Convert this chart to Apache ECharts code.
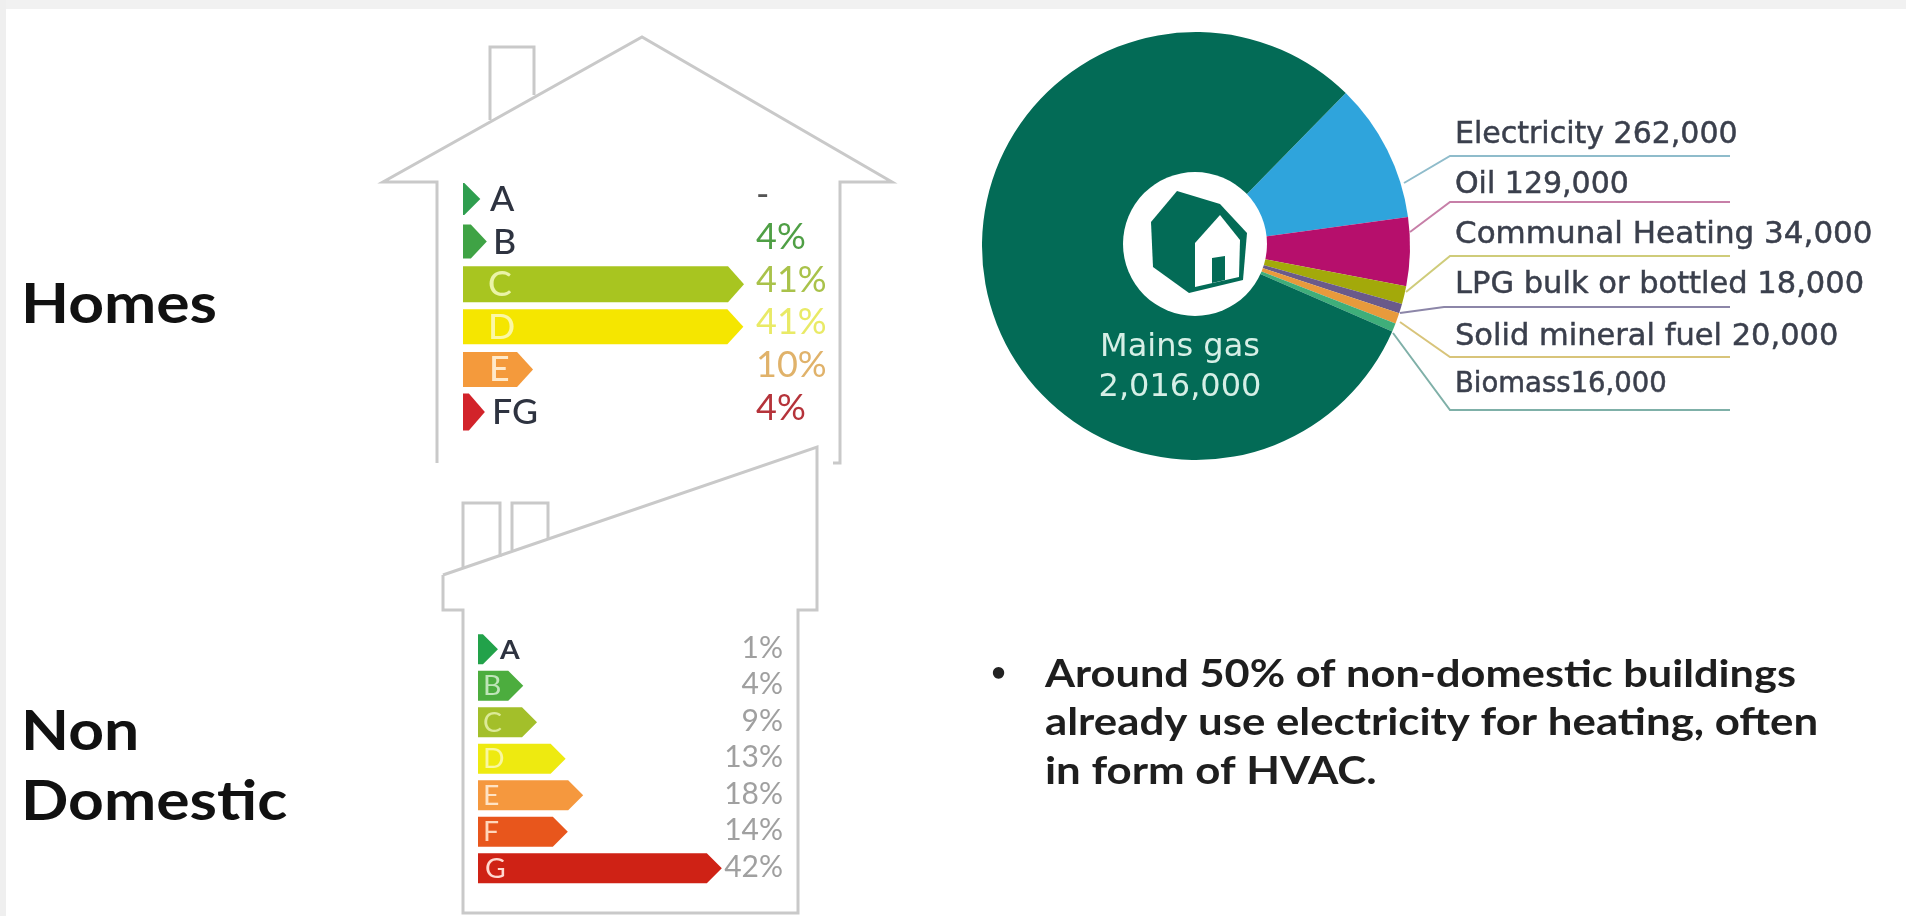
<!DOCTYPE html>
<html><head><meta charset="utf-8">
<style>html,body{margin:0;padding:0;background:#fff;overflow:hidden}#c{width:1906px;height:916px;filter:blur(0.7px)}</style>
<script src="https://cdn.jsdelivr.net/npm/echarts@6/dist/echarts.min.js"></script>
</head><body><div id="c"></div>
<script>
// Homes EPC bands
const homesBands = ['A','B','C','D','E','FG'];
const homesPercentLabels = ['-','4%','41%','41%','10%','4%'];
const homesBarLengths = [0.2,1.2,40.7,40.6,8.3,0.9];
// Non-domestic EPC bands
const nonDomBands = ['A','B','C','D','E','F','G'];
const nonDomPercentLabels = ['1%','4%','9%','13%','18%','14%','42%'];
const nonDomBarLengths = [0.9,5.5,8,13.2,16.4,13.6,41.6];
// Heating fuel pie
const fuelNames = ['Electricity','Oil','Communal Heating','LPG bulk or bottled','Solid mineral fuel','Biomass','Mains gas'];
const fuelValues = [262000,129000,34000,18000,20000,16000,2016000];
const fuelLabels = ['Electricity 262,000','Oil 129,000','Communal Heating 34,000','LPG bulk or bottled 18,000','Solid mineral fuel 20,000','Biomass16,000','Mains gas\n2,016,000'];

// Styling
const FONT='Lato';
const homesColors=['#2f9e4f','#3fa345','#a8c520','#f5e600','#f49a3c','#d2232a'];
const homesBarH=[32,34,36,35,35,37];
const homesLetterColors=['#2e3340','#2e3340','#eaf3a8','#fbf7a5','#ffe9c9','#2e3340'];
const homesPctColors=['#555','#4f9f45','#a9c24a','#e9ea66','#e0b26a','#b5333a'];
const homesLetterX=[27,30,25,25,26,29];
const nonColors=['#22a24a','#4cad3e','#a3bf2a','#eeea10','#f5983e','#e8561c','#cf2215'];
const nonBarH=[30,30,30,30,30,30,30];
const nonLetterColors=['#2e3340','#bfe5b8','#dcea98','#f9f7a0','#ffe3c4','#ffd6ba','#ffd8d0'];
const nonLetterX=[22,5,5,5,5,5,7];
const fuelColors=['#2fa4dc','#b60f6c','#a3a90a','#6a5a8a','#e89a3c','#3fae7a','#036b56'];
const fuelLineColors=['#8fbccb','#c77fa8','#cfcc7a','#8c86a8','#d8c47a','#7fb0a8'];
const fuelLabelSizes=[30,30,31,30.5,30.5,27.5,32];
const linePts=[
 [[1404,183],[1450,156],[1730,156]],
 [[1410,232],[1450,202],[1730,202]],
 [[1406,292],[1450,256],[1730,256]],
 [[1400,313],[1444,307],[1730,307]],
 [[1400,322],[1450,357],[1730,357]],
 [[1393,333],[1450,410],[1730,410]]];
const labelYs=[135,185,235,285,337,385,368];
const LINE='#c9c9c9';

function arrowSeries(xIdx,bands,lens,pctLabels,opt){
  return {type:'custom',xAxisIndex:xIdx,yAxisIndex:xIdx,coordinateSystem:'cartesian2d',clip:false,
    data:lens.map((v,i)=>[v,bands[i]]),
    encode:{x:0,y:1},
    renderItem(params,api){
      const i=params.dataIndex, v=api.value(0);
      const p0=api.coord([0,bands[i]]), p1=api.coord([v,bands[i]]);
      const pEnd=api.coord([opt.xMax,bands[i]]);
      const h=opt.barH[i]/2, x0=p0[0], xb=p1[0], y=p0[1];
      const lx=x0+opt.letterX[i];
      return {type:'group',children:[
        {type:'polygon',shape:{points:[[x0,y-h],[xb,y-h],[xb+opt.tip,y],[xb,y+h],[x0,y+h]]},style:{fill:opt.colors[i]}},
        {type:'text',originX:lx,originY:y,scaleX:1.05,style:{text:bands[i],x:lx,y:y+1,align:'left',verticalAlign:'middle',
          fontFamily:FONT,fontSize:opt.letterSize,fontWeight:opt.letterWeight[i],fill:opt.letterColors[i]}},
        {type:'text',style:{text:pctLabels[i],x:pEnd[0],y:y+opt.pctDy,align:opt.pctAlign,verticalAlign:'middle',
          fontFamily:FONT,fontSize:opt.pctSize,fill:opt.pctColors[i]}}
      ]};
    }};
}
function t(text,x,y,size,weight,color,sx){
  return {type:'text',z:100,originX:x,originY:y,scaleX:sx||1,style:{text,x,y,fontFamily:FONT,fontSize:size,fontWeight:weight,fill:color,verticalAlign:'middle'}};
}
function pl(points){return {type:'polyline',z:1,shape:{points},style:{stroke:LINE,lineWidth:3,fill:null}};}

const chart=echarts.init(document.getElementById('c'));
chart.setOption({
  backgroundColor:'#fff',animation:false,
  grid:[{left:463,top:177.7,width:293,height:255.6},{left:478,top:631,width:305,height:255.5}],
  xAxis:[{gridIndex:0,type:'value',min:0,max:45,show:false},{gridIndex:1,type:'value',min:0,max:55.45,show:false}],
  yAxis:[{gridIndex:0,type:'category',data:homesBands,inverse:true,show:false},{gridIndex:1,type:'category',data:nonDomBands,inverse:true,show:false}],
  graphic:[
    {type:'rect',z:0,shape:{x:0,y:0,width:1906,height:9},style:{fill:'#f1f1f1'}},
    {type:'rect',z:0,shape:{x:0,y:0,width:6,height:916},style:{fill:'#efefef'}},
    pl([[437,463],[437,182],[383,182],[642,37],[892,182],[840,182],[840,463],[833,463]]),
    pl([[490,120],[490,47],[534,47],[534,95]]),
    pl([[443,575],[817,447],[817,610],[798,610],[798,913],[463,913],[463,610],[443,610],[443,575]]),
    pl([[463,567],[463,503],[500,503],[500,557]]),
    pl([[512,550],[512,503],[548,503],[548,538]]),
    {type:'circle',z:100,shape:{cx:1195,cy:244,r:72},style:{fill:'#fff'}},
    {type:'polygon',z:101,shape:{points:[[1177,191],[1220,204],[1247,233],[1243,280],[1189,293],[1153,267],[1151,222]]},style:{fill:'#036b56'}},
    {type:'polygon',z:102,shape:{points:[[1220,215],[1240,240],[1239,277],[1195,287],[1195,243]]},style:{fill:'#fff'}},
    {type:'polygon',z:103,shape:{points:[[1212,258],[1225,256],[1225,280],[1212,283]]},style:{fill:'#036b56'}},
    t('Homes',21,305,55,'bold','#111',1.135),
    t('Non',21,732,55,'bold','#111',1.135),
    t('Domestic',21,802,55,'bold','#111',1.135),
    t('•',991,673,26,'bold','#222'),
    t('Around 50% of non-domestic buildings',1045,675,38,'bold','#1e1e1e',1.14),
    t('already use electricity for heating, often',1045,723,38,'bold','#1e1e1e',1.152),
    t('in form of HVAC.',1045,772,38,'bold','#1e1e1e',1.152)
  ],
  series:[
    arrowSeries(0,homesBands,homesBarLengths,homesPercentLabels,{xMax:45,barH:homesBarH,tip:16,colors:homesColors,letterColors:homesLetterColors,letterX:homesLetterX,letterSize:34,letterWeight:homesBands.map(()=> '500'),pctDy:-4,pctAlign:'left',pctSize:36,pctColors:homesPctColors}),
    arrowSeries(1,nonDomBands,nonDomBarLengths,nonDomPercentLabels,{xMax:55.45,barH:nonBarH,tip:15,colors:nonColors,letterColors:nonLetterColors,letterX:nonLetterX,letterSize:27,letterWeight:['bold','normal','normal','normal','normal','normal','normal'],pctDy:-1,pctAlign:'right',pctSize:30,pctColors:nonColors.map(()=> '#a0a0a0')}),
    {type:'pie',center:[1196,246],radius:[0,214],startAngle:45.6,clockwise:true,avoidLabelOverlap:false,
      data:fuelNames.map((n,i)=>({name:n,value:fuelValues[i],itemStyle:{color:fuelColors[i]},
        label: i===6?{position:'inside',color:'#d6efe6',fontSize:fuelLabelSizes[i],lineHeight:40,align:'center',textBorderWidth:0}:{fontSize:fuelLabelSizes[i]},
        labelLine: i===6?{show:false}:{show:true,lineStyle:{color:fuelLineColors[i],width:2}}})),
      label:{show:true,position:'outside',fontFamily:'DejaVu Sans',color:'#3a3f4c',textBorderColor:'#3a3f4c',textBorderWidth:0.5,
        formatter:p=>fuelLabels[p.dataIndex]},
      labelLine:{show:true},
      labelLayout(p){
        const i=p.dataIndex;
        if(i===6) return {x:1180,y:labelYs[6],align:'center',verticalAlign:'middle'};
        return {x:1455,y:labelYs[i],align:'left',verticalAlign:'middle',labelLinePoints:linePts[i]};
      },
      emphasis:{disabled:true}}
  ]
});
</script></body></html>
